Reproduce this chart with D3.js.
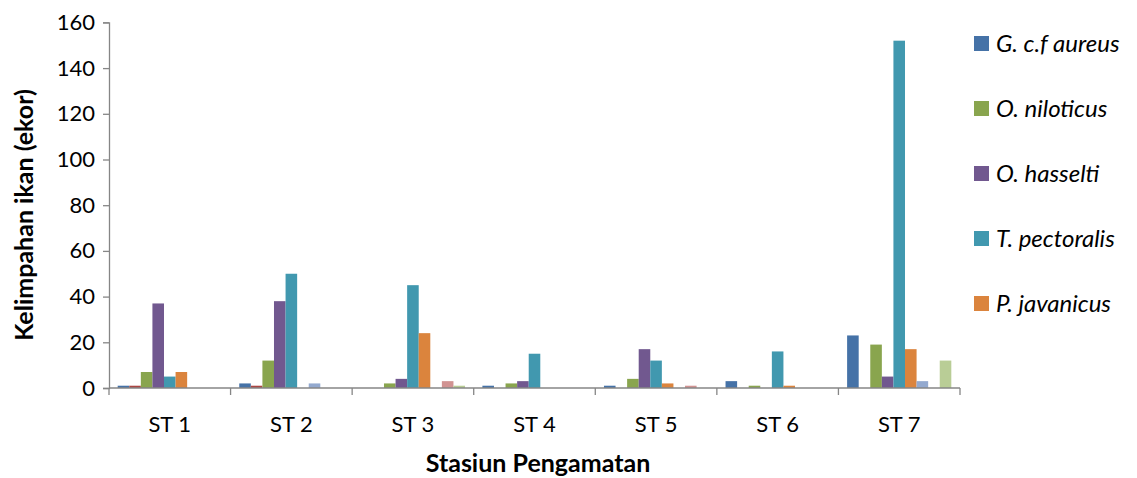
<!DOCTYPE html>
<html>
<head>
<meta charset="utf-8">
<script src="https://cdn.jsdelivr.net/npm/d3@7"></script>
<style>
  body { margin: 0; background: #fff; }
  svg { display: block; }
  text { font-family: Lato, "Open Sans", sans-serif; fill: #000; }
</style>
</head>
<body>
<svg id="chart" width="1137" height="478"></svg>
<script>
// Observation stations along the x axis
const stations = ["ST 1", "ST 2", "ST 3", "ST 4", "ST 5", "ST 6", "ST 7"];

// Fish counts per station, one array per species series
const gAureus     = [1, 2, 0, 1, 1, 3, 23];
const series2     = [1, 1, 0, 0, 0, 0, 0];
const oNiloticus  = [7, 12, 2, 2, 4, 1, 19];
const oHasselti   = [37, 38, 4, 3, 17, 0, 5];
const tPectoralis = [5, 50, 45, 15, 12, 16, 152];
const pJavanicus  = [7, 0, 24, 0, 2, 1, 17];
const series7     = [0, 2, 0, 0, 0, 0, 3];
const series8     = [0, 0, 3, 0, 1, 0, 0];
const series9     = [0, 0, 1, 0, 0, 0, 12];

const yTicks = [0, 20, 40, 60, 80, 100, 120, 140, 160];

const series = [
  { name: "G. c.f aureus",  values: gAureus,     color: "#4572A7", legend: true },
  { name: "series2",        values: series2,     color: "#AA4643", legend: false },
  { name: "O. niloticus",   values: oNiloticus,  color: "#89A54E", legend: true },
  { name: "O. hasselti",    values: oHasselti,   color: "#71588F", legend: true },
  { name: "T. pectoralis",  values: tPectoralis, color: "#4198AF", legend: true },
  { name: "P. javanicus",   values: pJavanicus,  color: "#DB843D", legend: true },
  { name: "series7",        values: series7,     color: "#93A9CF", legend: false },
  { name: "series8",        values: series8,     color: "#D19392", legend: false },
  { name: "series9",        values: series9,     color: "#B9CD96", legend: false }
];

const svg = d3.select("#chart");
const plot = { left: 109, right: 960, top: 22.4, bottom: 388 };
const axisColor = "#868686";

const x0 = d3.scaleBand().domain(stations).range([plot.left, plot.right]).padding(0);
// 150% gap between clusters: half the gap on each side of a cluster
const slot = x0.bandwidth() / (series.length + 1.5);
const x1 = d3.scaleBand()
  .domain(series.map(s => s.name))
  .range([slot * 0.75, x0.bandwidth() - slot * 0.75])
  .padding(0);
const y = d3.scaleLinear().domain([0, 160]).range([plot.bottom, plot.top]);

// Bars
const groups = svg.append("g").selectAll("g")
  .data(stations)
  .join("g")
  .attr("transform", d => `translate(${x0(d)},0)`);

groups.selectAll("rect")
  .data((st, i) => series.map(s => ({ s, v: s.values[i] })).filter(d => d.v > 0))
  .join("rect")
  .attr("x", d => x1(d.s.name))
  .attr("y", d => y(d.v))
  .attr("width", x1.bandwidth())
  .attr("height", d => y(0) - y(d.v))
  .attr("fill", d => d.s.color);

// Y axis
const yAxis = svg.append("g")
  .attr("transform", `translate(${plot.left},0)`)
  .call(d3.axisLeft(y).tickValues(yTicks).tickSize(6).tickPadding(8));
yAxis.select(".domain").attr("stroke", axisColor).attr("stroke-width", 1.3);
yAxis.selectAll(".tick line").attr("stroke", axisColor).attr("stroke-width", 1.3);
yAxis.selectAll(".tick text").style("font-size", "22px").style("font-family", "Lato, sans-serif");

// X axis with ticks at cluster boundaries
const xAxis = svg.append("g")
  .attr("transform", `translate(0,${plot.bottom})`);
xAxis.append("line")
  .attr("x1", plot.left).attr("x2", plot.right)
  .attr("stroke", axisColor).attr("stroke-width", 1.3);
const bounds = stations.map(s => x0(s)).concat([plot.right]);
xAxis.selectAll("line.tk")
  .data(bounds)
  .join("line")
  .attr("class", "tk")
  .attr("x1", d => d).attr("x2", d => d)
  .attr("y1", 0).attr("y2", 7)
  .attr("stroke", axisColor).attr("stroke-width", 1.3);
xAxis.selectAll("text")
  .data(stations)
  .join("text")
  .attr("x", d => x0(d) + x0.bandwidth() / 2)
  .attr("y", 43.5)
  .attr("text-anchor", "middle")
  .style("font-size", "22px")
  .text(d => d);

// Axis titles
svg.append("text")
  .attr("transform", `translate(33,215) rotate(-90)`)
  .attr("text-anchor", "middle")
  .style("font-size", "25px")
  .style("font-weight", "bold")
  .text("Kelimpahan ikan (ekor)");

svg.append("text")
  .attr("x", 538)
  .attr("y", 471.5)
  .attr("text-anchor", "middle")
  .style("font-size", "25px")
  .style("font-weight", "bold")
  .text("Stasiun Pengamatan");

// Legend
const legendItems = series.filter(s => s.legend);
const legend = svg.append("g").selectAll("g")
  .data(legendItems)
  .join("g")
  .attr("transform", (d, i) => `translate(974,${43.5 + i * 65})`);
legend.append("rect")
  .attr("x", 0).attr("y", -7.5)
  .attr("width", 15).attr("height", 15)
  .attr("fill", d => d.color);
legend.append("text")
  .attr("x", 22).attr("y", 8)
  .style("font-size", "24px")
  .style("font-style", "italic")
  .text(d => d.name);
</script>
</body>
</html>
